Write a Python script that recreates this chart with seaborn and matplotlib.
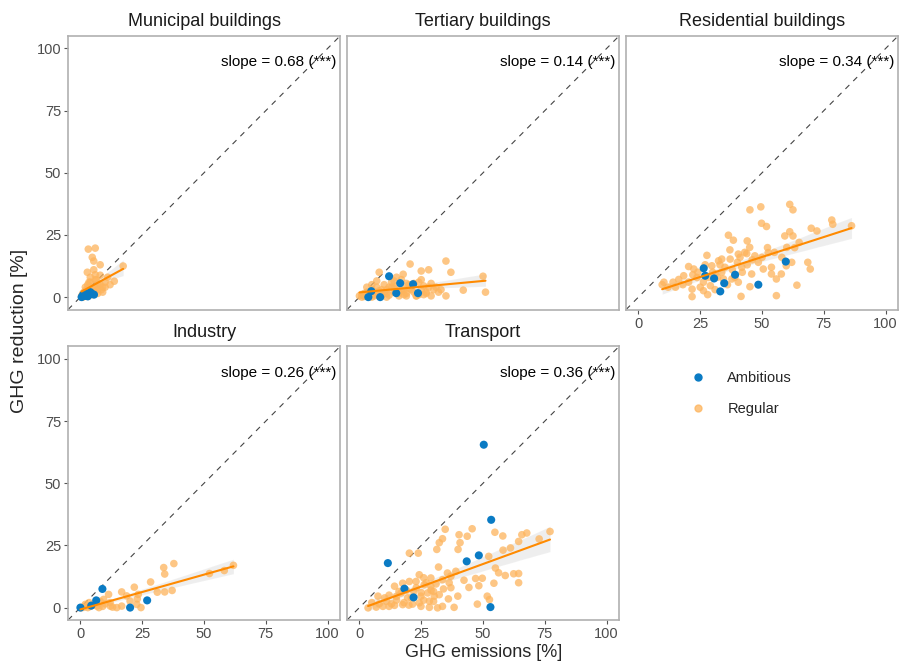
import numpy as np
import pandas as pd
import matplotlib
matplotlib.use('Agg')
from matplotlib import pyplot as plt
from matplotlib.lines import Line2D
import seaborn as sns

sns.set_style('white')
plt.rcParams['font.family'] = ['Liberation Sans', 'DejaVu Sans']

sectors = ['Municipal buildings', 'Tertiary buildings', 'Residential buildings', 'Industry', 'Transport']
slopes = ['0.68', '0.14', '0.34', '0.26', '0.36']
ticks = [0, 25, 50, 75, 100]

# Municipal buildings
muni_reg_x = [3.2, 6, 4.8, 5.4, 8, 2.8, 5.4, 8, 17.3, 13.7, 1, 2, 3, 4, 5, 6, 7, 8, 9, 10,
              2, 3, 4, 6, 7, 9, 11, 1.5, 2.5, 3.5, 4.5, 5.5, 6.5, 8.5, 4, 6, 10, 12, 3, 7,
              0.5, 1, 1.5, 2, 2.5, 0.5, 1]
muni_reg_y = [19.3, 19.7, 16, 14.5, 13, 10, 11, 8.8, 12.5, 6.4, 0.5, 1, 2, 2.5, 3, 4, 3, 5, 4, 6,
              4, 5, 6, 7, 5, 2, 8, 2, 3, 6, 1, 2, 7, 3, 8, 9, 4, 5, 1, 1.5,
              0.5, 1.5, 0.5, 1, 2, 0, 0]
muni_amb_x = [0.5, 1.5, 2.5, 3.5, 4.5, 5.5, 2, 3, 4, 1]
muni_amb_y = [0, 0.5, 0.5, 1, 1.5, 1, 1.5, 0.3, 2, 0.8]

# Tertiary buildings
tert_reg_x = [20.5, 35, 28, 25, 37, 17.7, 8, 42, 51, 50, 32, 35, 29,
              0, 1, 2, 3, 4, 5, 6, 7, 8, 9, 10, 11, 12, 13, 14, 15, 16, 17, 18, 19, 20,
              22, 24, 26, 28, 30, 5, 7, 10, 13, 15, 18, 20, 23, 25, 27, 3, 9, 14, 19, 24,
              1, 2, 4, 6, 7, 9, 11, 12, 14, 16, 17, 19, 21, 22, 23, 25, 26, 27, 29, 31,
              33, 2, 5, 8, 11]
tert_reg_y = [13.3, 14.5, 11, 10.5, 10, 9.2, 10, 2.8, 2, 8.4, 2, 0.5, 0.5,
              0.5, 1, 0.3, 2, 1.5, 3, 0.5, 4, 2.5, 1, 5, 3, 0.8, 6, 2, 4.5, 1.5, 7, 3, 0.5, 5,
              2, 6, 1, 4, 3, 5, 6.5, 2, 4, 8, 1, 3.5, 0.5, 7, 2, 4, 3, 6.5, 5.5, 1,
              0, 0.5, 0.5, 2, 1, 0.5, 1.5, 4, 3.5, 0.5, 2.5, 1.5, 3, 5.5, 0.5, 3, 4.5, 1.5, 5.5, 4,
              3, 1.5, 0, 0.5, 0]
tert_amb_x = [12, 16.5, 21.7, 4.8, 14.9, 23.7, 3.6, 8.4]
tert_amb_y = [8.4, 5.6, 5.2, 2.4, 1.6, 1.6, 0, 0]

# Residential buildings
resi_reg_x = [61.2, 62.5, 45.1, 49.5, 78.2, 78.6, 86.2, 69.9, 72.2, 49.8, 51.8, 61.2, 59.2, 62.5,
              36.4, 38.4, 44.0, 52.2, 52.5, 63.2, 40.4, 41.1, 47.1, 43.8, 27.7, 33.7, 37.1, 48.5,
              53.8, 68.5, 69.5, 57.8, 55.8, 64.1, 55.8, 41.5, 45.8, 45.1, 20.3, 16.3, 10.3, 9.6,
              21.7, 21.7, 23.7, 29.7, 31.0, 29.1, 26.3, 34.4, 37.8, 40.4, 28.4, 22.4, 32.4, 33.7,
              26.3, 20.3, 18.3, 41.8, 50.5, 53.8, 59.8,
              22, 24, 27, 30, 32, 35, 38, 40, 42, 44, 46, 18, 15, 25, 28, 31, 36, 39, 33, 43,
              37, 45, 50, 55, 60, 65, 58, 62, 12, 14]
resi_reg_y = [37.3, 35.1, 35.1, 36.3, 31, 29.3, 28.7, 27.7, 26.6, 29.7, 28.4, 26.3, 24.6, 24.6,
              24.9, 22.9, 22.6, 19.9, 17.9, 19.9, 17.3, 16, 16.6, 17.5, 16.8, 15.3, 15.3, 14,
              12.0, 14, 11.3, 9.3, 7.3, 4.8, 0.6, 0.3, 9.3, 4.2, 12.3, 7.1, 6, 5,
              0.2, 3.2, 7.9, 12.6, 9.3, 4.6, 2.6, 7.3, 7.3, 6, 7.9, 11.3, 14.6, 10,
              6, 6, 8.6, 12, 11.3, 9.3, 12.6,
              9, 10, 13, 10, 8, 12, 11, 14, 10, 13, 15, 5, 4, 4, 1, 3, 5, 8, 13, 18,
              19, 20, 16, 18, 20, 22, 16, 14, 4, 6]
resi_amb_x = [26.4, 27.0, 30.6, 39.1, 34.7, 33.1, 48.5, 59.6]
resi_amb_y = [11.6, 8.6, 7.5, 9.0, 5.6, 2.3, 5.0, 14.3]

# Industry
indu_reg_x = [37.8, 33.7, 34.1, 28.4, 61.9, 58.2, 52.2, 21.8, 16.7, 11.4, 23.4, 23.0, 31.1, 34.1,
              37.1, 20.1, 16.7, 14.7, 12.1, 9.4, 24.5, 22.8, 6.7, 2.0, 18.7,
              0.5, 1.5, 3, 4, 5, 7.5, 9, 10, 12, 13, 3.5, 6, 8]
indu_reg_y = [17.7, 16.1, 13.5, 10.3, 17.0, 14.9, 13.7, 8.2, 6.3, 5.3, 5.3, 3.5, 6.2, 6.3,
              6.9, 2.6, 0.6, 0, 0.6, 3.3, 0, 1.3, 0.6, 1.3, 4.7,
              0, 0.3, 0, 0.5, 1, 0, 0.5, 1.5, 2, 0.2, 2, 1.8, 2.5]
indu_amb_x = [8.9, 6.4, 4.4, 0, 20.1, 27.0]
indu_amb_y = [7.5, 2.9, 0.8, 0, 0, 2.9]

# Transport
tran_reg_x = [77.1, 67.7, 65.7, 72.7, 64.4, 61.1, 58.1, 54.8, 58.0, 45.6, 40.3, 43.6, 34.7, 33.6,
              32.3, 31.3, 40.7, 39.9, 23.8, 20.2, 32.0, 52.3, 55.0, 56.3, 59.0, 64.4, 62.4, 64.4,
              54.4, 48.3, 47.0, 49.7, 42.3, 44.3, 39.0, 37.0, 36.3, 37.0, 39.8, 51.7, 52.6, 47.7,
              38.3, 33.6, 31.6, 28.3, 24.9, 21.5, 17.5, 14.2, 9.5, 6.8, 3.5, 7.5, 10.2, 14.2,
              16.9, 19.5, 24.2, 22.9, 26.2, 28.9, 27.6, 30.3, 32.3, 24.9, 20.2, 17.5, 28.9, 33.6,
              35.6, 28.3, 24.2,
              5, 8, 11, 12, 13, 15, 16, 18, 19, 21, 22, 23, 25, 26, 27, 29, 30, 31, 34, 36,
              12, 15, 20, 26, 30]
tran_reg_y = [30.6, 30.0, 29.3, 27.6, 26.6, 24.0, 23.1, 30.3, 28.8, 31.7, 29.3, 28.7, 31.5, 27.7,
              26.1, 23.4, 26.1, 23.4, 21.9, 21.9, 16.3, 20.6, 15.9, 14.0, 12.9, 13.7, 13.6, 10,
              9.8, 8.8, 11.7, 11.8, 11.0, 8.1, 14.6, 12.6, 10, 8.0, 4.6, 4.6, 3.2, 1.4,
              0.1, 0.5, -0.1, 0.1, 0.5, 1.4, 1.2, 0.9, 0.5, 0.2, -0.1, 4.6, 3.9, 8.6,
              5.9, 3.9, 13.2, 10.5, 9.2, 8.5, 5.9, 4.6, 5.2, 4.6, 10.5, 9.8, 11.9, 11.2,
              13.9, 2.6, 1.9,
              2, 1.5, 2.5, 5, 1.5, 3, 6.5, 2, 7, 4, 6.5, 8, 6, 3, 10, 7, 2.5, 9.5, 7.5, 3.5,
              0.5, 4.5, 1, 12, 6.5]
tran_amb_x = [50.3, 53.3, 11.5, 48.3, 43.4, 18.2, 21.9, 53.0]
tran_amb_y = [65.5, 35.3, 17.9, 21.0, 18.6, 7.6, 4.1, 0.2]

reg_x = [muni_reg_x, tert_reg_x, resi_reg_x, indu_reg_x, tran_reg_x]
reg_y = [muni_reg_y, tert_reg_y, resi_reg_y, indu_reg_y, tran_reg_y]
amb_x = [muni_amb_x, tert_amb_x, resi_amb_x, indu_amb_x, tran_amb_x]
amb_y = [muni_amb_y, tert_amb_y, resi_amb_y, indu_amb_y, tran_amb_y]

rows = []
for i, s in enumerate(sectors):
    for x, y in zip(reg_x[i], reg_y[i]):
        rows.append((s, 'Regular', x, y))
    for x, y in zip(amb_x[i], amb_y[i]):
        rows.append((s, 'Ambitious', x, y))
df = pd.DataFrame(rows, columns=['sector', 'type', 'emissions', 'reduction'])

orange = '#FDB45C'
blue = '#0A7BC4'
line_col = '#FF8A00'

fig, axes = plt.subplots(2, 3, figsize=(9, 6.62), dpi=100)
plt.subplots_adjust(left=0.0756, right=0.9978, top=0.9456, bottom=0.0634, wspace=0.026, hspace=0.135)
axes = axes.flatten()
axes[5].axis('off')

for i, s in enumerate(sectors):
    ax = axes[i]
    sub = df[df['sector'] == s]
    ax.plot([-5, 105], [-5, 105], ls=(0, (5, 5)), color='#444444', lw=0.8, zorder=1)
    sns.scatterplot(data=sub[sub['type'] == 'Regular'], x='emissions', y='reduction', color=orange,
                    s=30, alpha=0.75, edgecolor='none', ax=ax, zorder=2)
    sns.scatterplot(data=sub[sub['type'] == 'Ambitious'], x='emissions', y='reduction', color=blue,
                    s=34, edgecolor='none', ax=ax, zorder=3)
    sns.regplot(data=sub, x='emissions', y='reduction', scatter=False, color='#909090', ax=ax,
                line_kws={'alpha': 0})
    sns.regplot(data=sub, x='emissions', y='reduction', scatter=False, ci=None, color=line_col,
                ax=ax, line_kws={'lw': 1.5, 'zorder': 4})
    ax.set_xlim(-5, 105)
    ax.set_ylim(-5, 105)
    ax.set_xticks(ticks)
    ax.set_yticks(ticks)
    ax.set_xlabel('')
    ax.set_ylabel('')
    ax.set_title(s, fontsize=13, pad=7, color='#1A1A1A')
    ax.text(103.5, 94.5, 'slope = %s (***)' % slopes[i], ha='right', va='center', fontsize=11,
            color='black')
    for sp in ax.spines.values():
        sp.set_color('#B0B0B0')
        sp.set_linewidth(1.2)
    show_x = i in (2, 3, 4)
    show_y = i in (0, 3)
    ax.tick_params(axis='x', bottom=show_x, labelbottom=show_x, length=3, color='#555555',
                   labelsize=10.5, labelcolor='#4D4D4D', pad=2)
    ax.tick_params(axis='y', left=show_y, labelleft=show_y, length=3, color='#555555',
                   labelsize=10.5, labelcolor='#4D4D4D', pad=2)

fig.text(0.537, 0.015, 'GHG emissions [%]', ha='center', va='center', fontsize=13)
fig.text(0.022, 0.5, 'GHG reduction [%]', ha='center', va='center', rotation=90, fontsize=14)

handles = [Line2D([], [], ls='', marker='o', color=blue, markersize=5),
           Line2D([], [], ls='', marker='o', color=orange, alpha=0.75, markersize=5)]
fig.legend(handles, ['Ambitious', 'Regular'], loc='upper left', bbox_to_anchor=(0.745, 0.46),
           frameon=False, fontsize=10.5, handletextpad=1.0, labelspacing=1.2)

plt.savefig('out.png', dpi=100)
